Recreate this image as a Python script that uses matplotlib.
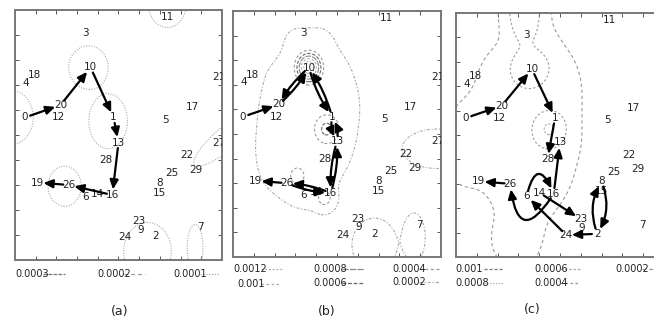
import numpy as np
import matplotlib
matplotlib.use('Agg')
import matplotlib.pyplot as plt
from matplotlib.lines import Line2D

W, H = 654, 323
FONT = ['Liberation Sans Narrow', 'DejaVu Sans']

# ---------------- data ----------------
node_x = [4.8, 47.6, 68, 34, 5.3, 72.6, 34, 89.5, 70, 60.5,
          36.5, 73.6, 21, 50, 40, 70, 47, 85.5, 9.3, 11,
          22, 98.5, 83, 60, 53, 76, 26, 98.5, 44, 87.5]
node_y = [57, 57, 9.5, 91, 71, 56, 25, 13, 31, 12,
          77, 97, 57, 47, 26.4, 27, 26, 61, 74, 31,
          62, 73, 42, 15.5, 9, 35, 30, 47, 40, 36]

# arrows: source, target, curvature
arrows_a_src = [0, 20, 10, 1, 13, 16, 26]
arrows_a_dst = [20, 10, 1, 13, 16, 26, 19]
arrows_a_rad = [0, 0, 0, 0, 0, 0, 0]

arrows_b_src = [0, 20, 10, 10, 1, 1, 13, 13, 16, 26, 16, 26]
arrows_b_dst = [20, 10, 20, 1, 10, 13, 1, 16, 13, 16, 26, 19]
arrows_b_rad = [0, 0.09, 0.09, 0.09, 0.09, 0.2, 0.2, 0.09, 0.09, 0.09, 0.09, 0]

arrows_c_src = [0, 20, 10, 1, 16, 6, 26, 16, 14, 24, 2, 8, 2]
arrows_c_dst = [20, 10, 1, 28, 13, 16, 19, 26, 23, 6, 24, 2, 8]
arrows_c_rad = [0, 0, 0, 0, 0, -1.5, 0, -1.4, 0, 0, 0, -0.25, -0.25]

# contour levels (legend)
levels_a = [0.0003, 0.0002, 0.0001]
levels_b = [0.0012, 0.001, 0.0008, 0.0006, 0.0004, 0.0002]
levels_c = [0.001, 0.0008, 0.0006, 0.0004, 0.0002]

# density bumps read from the contour shapes
# local peaks: centre, spread, peak value, angle
peak_a_x = [35.5, 45, 24, -2, 73.6, 64, 87, 104]
peak_a_y = [77, 55.5, 29.5, 57, 102, 3.5, 5, 50]
peak_a_sx = [8.8, 8.6, 7.4, 10, 8.3, 10.6, 3.5, 19.4]
peak_a_sy = [8.0, 10.1, 7.4, 10, 8.3, 10.6, 8.5, 4.6]
peak_a_amp = [0.00018] * 8
peak_a_ang = [0, 0, 0, 0, 0, 0, 0, 34]

peak_b_x = [36.5, 45, 31, 44, 98, 68, 87]
peak_b_y = [77, 52, 33, 24, 44, 5, 8]
peak_b_sx = [4.4, 5.7, 4, 5, 25, 12, 6]
peak_b_sy = [4.4, 5.7, 4, 5, 12, 12, 11]
peak_b_amp = [0.0014, 0.00065, 0.0005, 0.00045, 0.00025, 0.0003, 0.0003]
peak_b_ang = [0] * 7
# broad background mass (summed), centre points
broad_b_x = [28, 44, 52, 20, 56, 17, 54, 16, 50, 18, 30, 44, 33, 36, 36]
broad_b_y = [90, 90, 76, 74, 63, 60, 50, 46, 38, 33, 25, 23, 40, 56, 72]
broad_b_amp = [0.00017] * 15

peak_c_x = [35.5, 44.7, 33]
peak_c_y = [77, 52.4, 102]
peak_c_sx = [11, 8.3, 9]
peak_c_sy = [9.8, 8.0, 16]
peak_c_amp = [0.00055, 0.00062, 0.00055]
peak_c_ang = [0, 0, 0]
broad_c_x = [30, 42, 20, 50, 16, 54, 3, 3, 3, 15, 15, 54, 55, 50,
             30, 35, 28, 38, 22, 42, 22, 36, 29]
broad_c_y = [92, 92, 80, 80, 70, 70, 58, 45, 34, 55, 40, 58, 45, 32,
             65, 50, 38, 35, 25, 22, 8, 8, 0]
broad_c_amp = [0.00017] * 23

panel_names = ['(a)', '(b)', '(c)']

# ---------------- styles / layout ----------------
axes_px = [(15, 10, 207, 250), (233, 11, 208, 246), (456, 13, 208, 244)]
label_px = [(120, 311), (327, 311), (532, 310)]
BROAD_SPREAD = 8.0

style_a = [((0, (3, 1)), '#777777'), ((0, (3, 2.5)), '#999999'), ((0, (1, 1.3)), '#aaaaaa')]
style_b = [((0, (1.5, 1.5)), '#aaaaaa'), ((0, (2, 2)), '#aaaaaa'), ((0, (5, 1)), '#888888'),
           ((0, (3, 1.5)), '#666666'), ((0, (2.5, 2)), '#999999'), ((0, (2.5, 1.5, 1, 1.5)), '#aaaaaa')]
style_c = [((0, (2.5, 1.5)), '#777777'), ((0, (1, 1.3)), '#aaaaaa'), ((0, (2, 1.5)), '#aaaaaa'),
           ((0, (2, 2)), '#999999'), ((0, (3, 2.5)), '#999999')]

leg_a_px = [(15, 274, 43, 65), (97, 274, 124, 145), (173, 274, 200, 220)]
leg_b_px = [(233, 269, 261, 283), (237, 284, 261, 280), (313, 269, 342, 364),
            (313, 283, 342, 364), (392, 269, 419, 439), (392, 282, 419, 439)]
leg_c_px = [(455, 269, 484, 504), (455, 283, 484, 504), (534, 269, 560, 580),
            (534, 283, 560, 580), (615, 269, 642, 662)]


def gauss(X, Y, cx, cy, a, b, A, t):
    th = np.deg2rad(t)
    dx, dy = X - cx, Y - cy
    u = dx * np.cos(th) + dy * np.sin(th)
    v = -dx * np.sin(th) + dy * np.cos(th)
    return A * np.exp(-(u ** 2 / (2 * a ** 2) + v ** 2 / (2 * b ** 2)))


def field(X, Y, peaks, broad, p=4.0):
    total = np.zeros_like(X)
    for cx, cy, a, b, A, t in zip(*peaks):
        total += gauss(X, Y, cx, cy, a, b, A, t) ** p
    if broad:
        bs = np.zeros_like(X)
        for cx, cy, A in zip(*broad):
            bs += gauss(X, Y, cx, cy, BROAD_SPREAD, BROAD_SPREAD, A, 0)
        total += bs ** p
    return total ** (1.0 / p)


fig = plt.figure(figsize=(W / 100, H / 100), dpi=100)
fig.patch.set_facecolor('white')

gx = np.linspace(-5, 105, 441)
X, Y = np.meshgrid(gx, gx)

panels = [
    (arrows_a_src, arrows_a_dst, arrows_a_rad, levels_a, style_a, leg_a_px,
     (peak_a_x, peak_a_y, peak_a_sx, peak_a_sy, peak_a_amp, peak_a_ang), None),
    (arrows_b_src, arrows_b_dst, arrows_b_rad, levels_b, style_b, leg_b_px,
     (peak_b_x, peak_b_y, peak_b_sx, peak_b_sy, peak_b_amp, peak_b_ang),
     (broad_b_x, broad_b_y, broad_b_amp)),
    (arrows_c_src, arrows_c_dst, arrows_c_rad, levels_c, style_c, leg_c_px,
     (peak_c_x, peak_c_y, peak_c_sx, peak_c_sy, peak_c_amp, peak_c_ang),
     (broad_c_x, broad_c_y, broad_c_amp)),
]

for i, (src, dst, rad, levels, styles, legpx, peaks, broad) in enumerate(panels):
    l, t, w, h = axes_px[i]
    ax = fig.add_axes([l / W, 1 - (t + h) / H, w / W, h / H])
    ax.set_xlim(0, 100)
    ax.set_ylim(0, 100)
    ticks = np.arange(10, 100, 10)
    ax.set_xticks(ticks)
    ax.set_yticks(ticks)
    ax.tick_params(direction='in', length=3, width=0.7, color='#555555',
                   top=True, right=True, labelbottom=False, labelleft=False)
    for sp in ax.spines.values():
        sp.set_color('#777777')
        sp.set_linewidth(1.4)

    F = field(X, Y, peaks, broad)
    for lev, (ls, col) in zip(levels, styles):
        cs = ax.contour(X, Y, F, levels=[lev], colors=[col], linewidths=0.8)
        cs.set_linestyle(ls)

    for k in range(len(node_x)):
        px = l + node_x[k] / 100 * w
        if px > W - 6:
            continue  # beyond the figure edge, not visible in the reference
        ax.text(node_x[k], node_y[k], str(k), ha='center', va='center',
                fontsize=7.5, family=FONT, color='#222222', clip_on=True)

    for s, d, r in zip(src, dst, rad):
        ax.annotate('', xy=(node_x[d], node_y[d]), xytext=(node_x[s], node_y[s]),
                    arrowprops=dict(arrowstyle='-|>,head_length=0.55,head_width=0.25',
                                    color='black', lw=1.6, shrinkA=4, shrinkB=4,
                                    mutation_scale=10,
                                    connectionstyle=f'arc3,rad={r}'))

    for lev, (ls, col), (tx, ty, x0, x1) in zip(levels, styles, legpx):
        fig.text(tx / W, 1 - ty / H, f'{lev:g}', ha='left', va='center',
                 fontsize=7, family=FONT, color='#222222')
        fig.add_artist(Line2D([x0 / W, x1 / W], [1 - ty / H, 1 - ty / H],
                              transform=fig.transFigure, color=col,
                              linestyle=ls, linewidth=0.9))

    lx, ly = label_px[i]
    fig.text(lx / W, 1 - ly / H, panel_names[i], ha='center', va='center',
             fontsize=9, family=FONT, color='#222222')

fig.savefig('out.png', dpi=100)
